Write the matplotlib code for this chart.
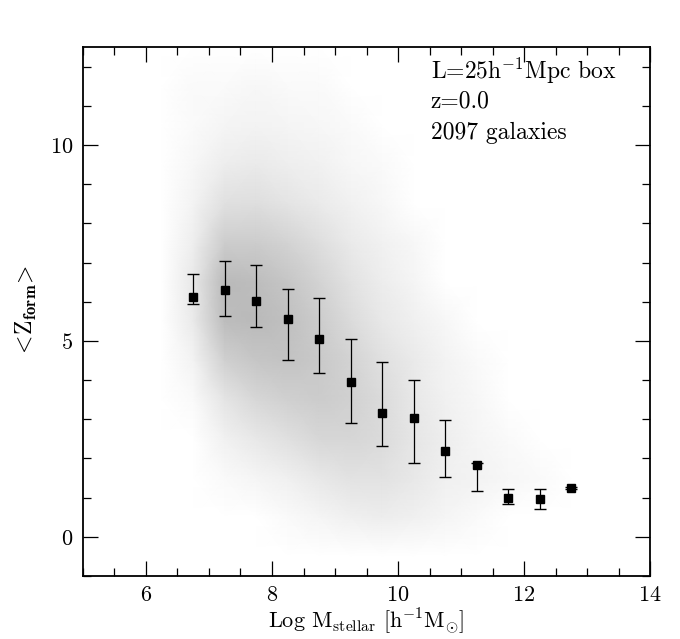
"""<Z_form> vs stellar mass: galaxy cloud (as density) + binned means with error bars."""

import numpy as np
import matplotlib
matplotlib.use("Agg")
import matplotlib.pyplot as plt
from matplotlib.colors import LinearSegmentedColormap, PowerNorm
from matplotlib.ticker import MultipleLocator

plt.rcParams["font.family"] = ["cmr10", "DejaVu Serif"]
plt.rcParams["mathtext.fontset"] = "cm"
plt.rcParams["axes.formatter.use_mathtext"] = True

# binned means (squares) and spread (error bars)
mass_bins = [6.75, 7.25, 7.75, 8.25, 8.75, 9.25, 9.75, 10.25, 10.75, 11.25, 11.75, 12.25, 12.75]
z_mean = [6.12, 6.30, 6.02, 5.56, 5.06, 3.94, 3.17, 3.04, 2.20, 1.82, 1.00, 0.96, 1.24]
z_hi = [6.72, 7.03, 6.94, 6.33, 6.10, 5.06, 4.45, 4.01, 2.98, 1.89, 1.22, 1.21, 1.26]
z_lo = [5.93, 5.64, 5.36, 4.52, 4.19, 2.91, 2.33, 1.89, 1.53, 1.18, 0.84, 0.72, 1.22]

cloud_x = [6.25, 6.75, 7.25, 7.75, 8.25, 8.75, 9.25, 9.75, 10.25, 10.75, 11.25, 11.75, 12.25, 12.75, 13.25]
cloud_y = [0.5, 1.5, 2.5, 3.5, 4.5, 5.5, 6.5, 7.5, 8.5, 9.5, 10.5, 11.5]
cloud_counts = [
    [0, 0, 0, 0, 1, 3, 6, 8, 6, 3, 1, 0, 0, 0, 0],
    [0, 0, 1, 3, 6, 12, 18, 18, 12, 6, 4, 2, 1, 0, 0],
    [0, 0, 5, 12, 20, 30, 32, 25, 14, 7, 3, 1, 0, 0, 0],
    [0, 1, 15, 30, 40, 45, 38, 25, 12, 5, 2, 0, 0, 0, 0],
    [0, 4, 40, 55, 60, 50, 35, 20, 10, 4, 1, 0, 0, 0, 0],
    [0, 10, 70, 75, 65, 45, 25, 12, 6, 2, 0, 0, 0, 0, 0],
    [0, 12, 75, 70, 55, 35, 18, 8, 3, 0, 0, 0, 0, 0, 0],
    [0, 7, 45, 45, 35, 22, 10, 5, 2, 0, 0, 0, 0, 0, 0],
    [0, 4, 20, 22, 16, 10, 5, 2, 0, 0, 0, 0, 0, 0, 0],
    [0, 2, 8, 10, 7, 5, 2, 1, 0, 0, 0, 0, 0, 0, 0],
    [0, 1, 3, 4, 3, 2, 1, 0, 0, 0, 0, 0, 0, 0, 0],
    [0, 1, 1, 2, 1, 1, 0, 0, 0, 0, 0, 0, 0, 0, 0],
]

fig = plt.figure(figsize=(6.8, 6.39), dpi=100)
ax = fig.add_axes([0.122, 0.0986, 0.834, 0.8278])

# cloud: pad with empty rows so the shading fades out
cy = np.concatenate([[cloud_y[0] - 1], cloud_y, [cloud_y[-1] + 1]])
cc = np.array(cloud_counts, dtype=float)
cc = np.vstack([np.zeros(cc.shape[1]), cc, np.zeros(cc.shape[1])])
cmap = LinearSegmentedColormap.from_list("cloud", ["#ffffff", "#bababa"])
ax.pcolormesh(cloud_x, cy, cc, shading="gouraud", cmap=cmap,
              norm=PowerNorm(0.6, vmin=0, vmax=75), zorder=1)

yerr = [np.array(z_mean) - np.array(z_lo), np.array(z_hi) - np.array(z_mean)]
ax.errorbar(mass_bins, z_mean, yerr=yerr, fmt="s", color="black", ms=6,
            elinewidth=0.9, capsize=4.5, capthick=1.0, zorder=3)

ax.set_xlim(5, 14)
ax.set_ylim(-1, 12.5)
ax.xaxis.set_major_locator(MultipleLocator(2))
ax.xaxis.set_minor_locator(MultipleLocator(0.5))
ax.yaxis.set_major_locator(MultipleLocator(5))
ax.yaxis.set_minor_locator(MultipleLocator(1))
ax.tick_params(which="both", direction="in", top=True, right=True,
               labelsize=16, width=0.9, pad=7)
ax.tick_params(which="major", length=10.5)
ax.tick_params(which="minor", length=5.5)
for s in ax.spines.values():
    s.set_linewidth(1.3)

ax.set_xlabel(r"Log M$_{\rm stellar}$ [h$^{-1}$M$_{\odot}$]", fontsize=16, labelpad=1)
ax.set_ylabel(r"$<\!\mathrm{Z}_{\mathbf{form}}\!>$", fontsize=17, labelpad=8)

ax.text(10.52, 11.9, r"L=25h$^{-1}$Mpc box", fontsize=17, va="center")
ax.text(10.52, 11.12, "z=0.0", fontsize=17, va="center")
ax.text(10.52, 10.32, "2097 galaxies", fontsize=17, va="center")

fig.savefig("out.png", dpi=100)
